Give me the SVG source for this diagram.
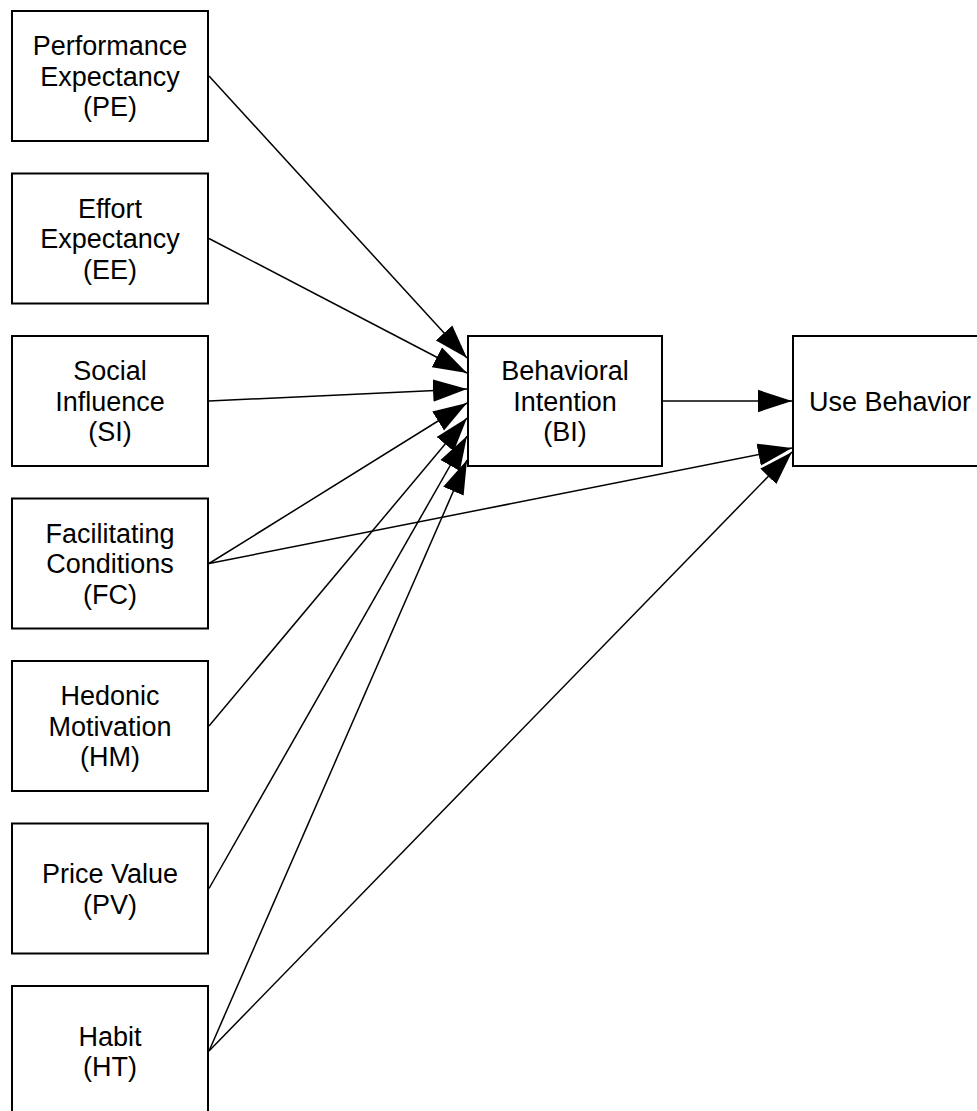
<svg xmlns="http://www.w3.org/2000/svg" width="977" height="1111" viewBox="0 0 977 1111">
  <style>
    .box { fill: #ffffff; stroke: #000000; stroke-width: 2; }
    .lbl { font-family: "Liberation Sans", Arial, sans-serif; font-size: 27px; fill: #000000; text-anchor: middle; }
    .edge { fill: none; stroke: #000000; stroke-width: 1.5; marker-end: url(#block); }
  </style>
  <defs>
    <marker id="block" markerUnits="userSpaceOnUse" markerWidth="34" markerHeight="24" viewBox="0 0 32 21" refX="32" refY="10.5" orient="auto">
      <path d="M0,0 L32,10.5 L0,21 Z" fill="#000000"/>
    </marker>
  </defs>
  <rect width="977" height="1111" fill="#ffffff"/>

  <g id="connectors">
    <line class="edge" x1="209" y1="76" x2="467" y2="358"/>
    <line class="edge" x1="209" y1="238.5" x2="467" y2="373"/>
    <line class="edge" x1="209" y1="401" x2="467" y2="389"/>
    <line class="edge" x1="209" y1="563.5" x2="467" y2="403"/>
    <line class="edge" x1="209" y1="726" x2="467" y2="418"/>
    <line class="edge" x1="209" y1="888.5" x2="467" y2="436"/>
    <line class="edge" x1="209" y1="1051" x2="467" y2="460"/>
    <line class="edge" x1="663" y1="401" x2="792" y2="401"/>
    <line class="edge" x1="209" y1="563.5" x2="792" y2="448"/>
    <line class="edge" x1="209" y1="1051" x2="792" y2="452"/>
  </g>

  <g id="node-pe">
    <rect class="box" x="12" y="11" width="196" height="130"/>
    <text class="lbl" x="110" y="55">Performance</text>
    <text class="lbl" x="110" y="85.5">Expectancy</text>
    <text class="lbl" x="110" y="116">(PE)</text>
  </g>
  <g id="node-ee">
    <rect class="box" x="12" y="173.5" width="196" height="130"/>
    <text class="lbl" x="110" y="217.5">Effort</text>
    <text class="lbl" x="110" y="248">Expectancy</text>
    <text class="lbl" x="110" y="278.5">(EE)</text>
  </g>
  <g id="node-si">
    <rect class="box" x="12" y="336" width="196" height="130"/>
    <text class="lbl" x="110" y="380">Social</text>
    <text class="lbl" x="110" y="410.5">Influence</text>
    <text class="lbl" x="110" y="441">(SI)</text>
  </g>
  <g id="node-fc">
    <rect class="box" x="12" y="498.5" width="196" height="130"/>
    <text class="lbl" x="110" y="542.5">Facilitating</text>
    <text class="lbl" x="110" y="573">Conditions</text>
    <text class="lbl" x="110" y="603.5">(FC)</text>
  </g>
  <g id="node-hm">
    <rect class="box" x="12" y="661" width="196" height="130"/>
    <text class="lbl" x="110" y="705">Hedonic</text>
    <text class="lbl" x="110" y="735.5">Motivation</text>
    <text class="lbl" x="110" y="766">(HM)</text>
  </g>
  <g id="node-pv">
    <rect class="box" x="12" y="823.5" width="196" height="130"/>
    <text class="lbl" x="110" y="883">Price Value</text>
    <text class="lbl" x="110" y="913.5">(PV)</text>
  </g>
  <g id="node-ht">
    <rect class="box" x="12" y="986" width="196" height="130"/>
    <text class="lbl" x="110" y="1045.5">Habit</text>
    <text class="lbl" x="110" y="1076">(HT)</text>
  </g>
  <g id="node-bi">
    <rect class="box" x="468" y="336" width="194" height="130"/>
    <text class="lbl" x="565" y="380">Behavioral</text>
    <text class="lbl" x="565" y="410.5">Intention</text>
    <text class="lbl" x="565" y="441">(BI)</text>
  </g>
  <g id="node-ub">
    <rect class="box" x="793" y="336" width="194" height="130"/>
    <text class="lbl" x="890" y="410.5">Use Behavior</text>
  </g>
</svg>
